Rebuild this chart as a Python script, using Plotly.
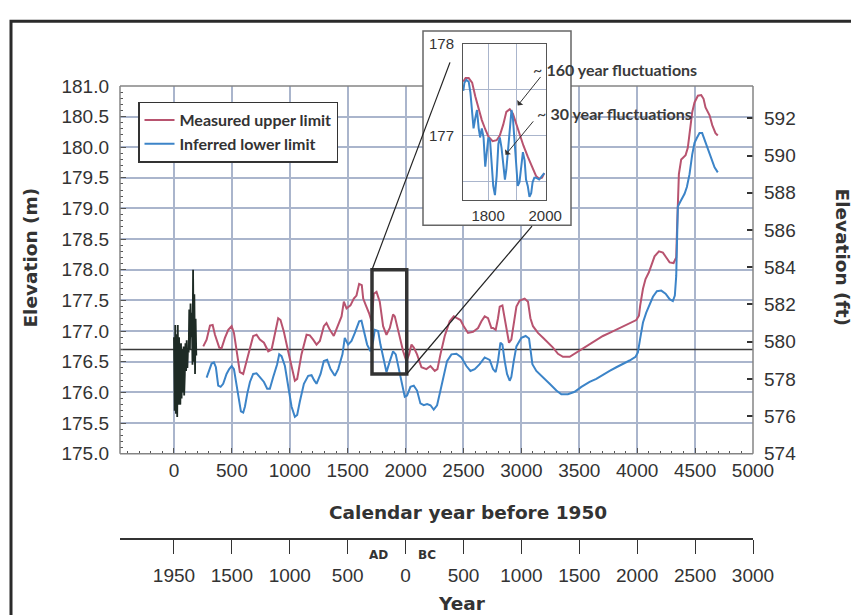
import plotly.graph_objects as go

# ---------------- data ----------------
upper_years = [253, 282, 311, 334, 354, 374, 391, 411, 440, 469, 498, 518, 547, 569, 598, 621, 650, 684, 713, 742,
               777, 814, 843, 871, 900, 920, 949, 986, 1024, 1044, 1064, 1101, 1145, 1173, 1202, 1231, 1260, 1294, 1317, 1346,
               1380, 1409, 1447, 1467, 1490, 1524, 1553, 1576, 1599, 1622, 1634, 1657, 1685, 1706, 1726, 1749, 1777, 1806, 1835, 1864,
               1892, 1907, 1927, 1950, 1979, 2007, 2030, 2051, 2071, 2099, 2137, 2180, 2215, 2252, 2275, 2301, 2338, 2381, 2416, 2444,
               2474, 2502, 2539, 2583, 2626, 2655, 2683, 2712, 2741, 2755, 2778, 2798, 2813, 2836, 2856, 2876, 2893, 2913, 2934, 2957,
               2985, 3028, 3057, 3078, 3100, 3143, 3187, 3230, 3273, 3316, 3359, 3417, 3474, 3532, 3589, 3647, 3704, 3762, 3820, 3877,
               3934, 3992, 4015, 4026, 4050, 4072, 4101, 4121, 4150, 4188, 4222, 4251, 4280, 4314, 4337, 4343, 4351, 4360, 4380, 4418,
               4437, 4452, 4475, 4495, 4524, 4553, 4573, 4590, 4625, 4648, 4676, 4696]
upper_m = [176.75, 176.86, 177.09, 177.10, 176.94, 176.81, 176.73, 176.72, 176.89, 177.02, 177.08, 176.97, 176.62, 176.33, 176.30, 176.46, 176.67, 176.92, 176.94, 176.86,
           176.81, 176.67, 176.70, 176.94, 177.21, 177.18, 176.99, 176.67, 176.33, 176.19, 176.22, 176.62, 176.94, 176.93, 176.86, 176.78, 176.84, 177.08, 177.13, 177.02,
           176.92, 177.05, 177.24, 177.48, 177.37, 177.42, 177.53, 177.58, 177.77, 177.75, 177.53, 177.42, 177.29, 177.16, 177.61, 177.64, 177.48, 177.08, 176.94, 177.05,
           177.27, 177.24, 177.08, 176.92, 176.67, 176.51, 176.62, 176.78, 176.73, 176.62, 176.41, 176.38, 176.43, 176.35, 176.38, 176.62, 176.92, 177.16, 177.24, 177.21,
           177.18, 177.08, 176.97, 176.99, 177.05, 177.16, 177.24, 177.21, 177.05, 177.05, 177.02, 177.21, 177.40, 177.42, 177.21, 176.94, 176.81, 176.86, 177.16, 177.40,
           177.50, 177.53, 177.48, 177.21, 177.08, 176.97, 176.89, 176.81, 176.73, 176.63, 176.58, 176.58, 176.65, 176.72, 176.78, 176.85, 176.92, 176.97, 177.02, 177.08,
           177.13, 177.18, 177.25, 177.42, 177.69, 177.85, 177.96, 178.06, 178.22, 178.30, 178.28, 178.20, 178.12, 178.11, 178.20, 178.60, 178.97, 179.56, 179.80, 179.87,
           179.99, 180.25, 180.57, 180.73, 180.84, 180.85, 180.79, 180.65, 180.52, 180.36, 180.23, 180.19]

lower_years = [282, 305, 325, 345, 362, 382, 403, 425, 454, 477, 498, 518, 541, 564, 578, 598, 613, 633, 656, 684,
               713, 742, 777, 805, 828, 857, 891, 909, 929, 958, 986, 1015, 1044, 1064, 1087, 1122, 1159, 1188, 1210, 1231,
               1266, 1294, 1323, 1352, 1389, 1418, 1455, 1475, 1504, 1533, 1562, 1599, 1619, 1639, 1668, 1697, 1720, 1734, 1763, 1783,
               1812, 1835, 1864, 1892, 1915, 1944, 1973, 1993, 2013, 2042, 2071, 2099, 2128, 2157, 2186, 2215, 2243, 2272, 2301, 2330,
               2358, 2396, 2439, 2482, 2525, 2560, 2597, 2640, 2683, 2726, 2755, 2778, 2798, 2819, 2836, 2856, 2876, 2899, 2913, 2934,
               2957, 3000, 3037, 3066, 3078, 3095, 3129, 3187, 3244, 3302, 3345, 3402, 3460, 3518, 3589, 3647, 3704, 3762, 3820, 3877,
               3934, 3986, 4006, 4026, 4050, 4078, 4107, 4136, 4170, 4208, 4245, 4280, 4308, 4325, 4337, 4343, 4351, 4372, 4409, 4429,
               4452, 4475, 4495, 4515, 4538, 4561, 4581, 4610, 4639, 4668, 4696]
lower_m = [176.24, 176.38, 176.47, 176.49, 176.41, 176.11, 176.09, 176.14, 176.30, 176.38, 176.43, 176.38, 176.14, 175.87, 175.69, 175.67, 175.77, 175.98, 176.17, 176.30,
           176.31, 176.25, 176.17, 176.06, 176.06, 176.25, 176.46, 176.62, 176.59, 176.43, 176.09, 175.77, 175.60, 175.63, 175.85, 176.14, 176.27, 176.28, 176.20, 176.14,
           176.30, 176.51, 176.53, 176.38, 176.27, 176.38, 176.62, 176.89, 176.78, 176.84, 176.97, 177.16, 177.17, 177.00, 176.78, 176.67, 176.84, 177.02, 177.00, 176.78,
           176.51, 176.33, 176.51, 176.67, 176.62, 176.38, 176.09, 175.93, 175.95, 176.09, 176.11, 176.03, 175.82, 175.79, 175.81, 175.79, 175.72, 175.79, 176.03, 176.30,
           176.51, 176.62, 176.63, 176.57, 176.43, 176.35, 176.38, 176.46, 176.57, 176.53, 176.38, 176.33, 176.51, 176.81, 176.78, 176.51, 176.30, 176.19, 176.25, 176.51,
           176.75, 176.89, 176.92, 176.88, 176.73, 176.46, 176.35, 176.25, 176.14, 176.03, 175.97, 175.97, 176.01, 176.09, 176.17, 176.22, 176.29, 176.35, 176.41, 176.46,
           176.52, 176.58, 176.65, 176.88, 177.14, 177.30, 177.42, 177.56, 177.65, 177.66, 177.61, 177.52, 177.49, 177.58, 177.90, 178.44, 179.03, 179.11, 179.24, 179.35,
           179.56, 179.88, 180.07, 180.15, 180.23, 180.23, 180.12, 179.99, 179.83, 179.67, 179.59]

gauge_years = [0, 6, 11, 17, 22, 28, 33, 39, 44, 50, 55, 61, 66, 72, 77, 83, 88, 94, 99, 105,
               110, 116, 121, 127, 132, 138, 143, 149, 154, 160, 165, 171, 176, 182, 187, 193]
gauge_m = [176.90, 175.70, 177.10, 175.65, 176.95, 175.60, 177.10, 175.80, 176.90, 176.00, 175.80, 176.80, 175.90, 176.70, 176.00, 176.75, 175.95, 176.30, 176.80, 176.35,
           176.85, 176.40, 176.70, 176.65, 177.35, 176.70, 177.45, 176.90, 177.30, 176.45, 178.00, 176.50, 177.60, 176.30, 177.20, 176.60]

ref_level_m = 176.7

inset_upper_years = [1713, 1721, 1732, 1744, 1755, 1767, 1778, 1790, 1801, 1816, 1830, 1841, 1853, 1864, 1876, 1887, 1899, 1910, 1924, 1939,
                     1954, 1968, 1979, 1989, 1997]
inset_upper_m = [177.59, 177.63, 177.63, 177.58, 177.43, 177.29, 177.17, 177.07, 176.99, 176.94, 176.95, 177.00, 177.12, 177.26, 177.29, 177.24, 177.12, 177.01, 176.89, 176.77,
                 176.65, 176.56, 176.53, 176.54, 176.59]
inset_lower_years = [1713, 1717, 1724, 1732, 1738, 1744, 1749, 1755, 1761, 1767, 1772, 1778, 1784, 1790, 1795, 1801, 1807, 1813, 1818, 1824,
                     1830, 1836, 1841, 1847, 1853, 1859, 1864, 1870, 1876, 1882, 1887, 1893, 1899, 1904, 1910, 1916, 1922, 1928, 1933, 1939,
                     1945, 1951, 1956, 1962, 1968, 1979, 1991, 1997]
inset_lower_m = [177.49, 177.58, 177.61, 177.59, 177.47, 177.26, 177.08, 177.19, 177.28, 177.08, 176.98, 177.08, 176.98, 176.66, 176.80, 176.98, 176.94, 176.66, 176.45, 176.35,
                 176.56, 176.91, 176.98, 176.87, 176.70, 176.52, 176.63, 176.87, 177.08, 177.28, 177.19, 176.91, 176.63, 176.45, 176.49, 176.66, 176.82, 176.73, 176.52, 176.45,
                 176.33, 176.37, 176.49, 176.54, 176.54, 176.52, 176.56, 176.59]

bp_ticks = [0, 500, 1000, 1500, 2000, 2500, 3000, 3500, 4000, 4500, 5000]
calendar_labels = ["1950", "1500", "1000", "500", "0", "500", "1000", "1500", "2000", "2500", "3000"]
ft_ticks = [574, 576, 578, 580, 582, 584, 586, 588, 590, 592]

# ---------------- layout geometry ----------------
OFF = 8                      # page body margin
W, H = 859 - OFF, 615 - OFF
PLOT_L, PLOT_R, PAPER_T, PAPER_B = 120, 753, 20, 539   # page pixels
ML = PLOT_L - OFF
MR = W - (PLOT_R - OFF)
MT = PAPER_T - OFF
MB = H - (PAPER_B - OFF)
PW, PH = PLOT_R - PLOT_L, PAPER_B - PAPER_T
X_RANGE = [-466, 5000]
Y_RANGE = [175.0, 181.0]
FT_RANGE = [573.98, 593.74]
INSET_X = [1712, 2003]
INSET_Y = [176.3, 178.005]
BOX_X = [1710, 2010]
BOX_Y = [176.3, 178.0]


def pxx(px):
    return (px - PLOT_L) / PW


def pxy(py):
    return (PAPER_B - py) / PH


Y_DOM = [pxy(452), pxy(77)]


def data_to_paper(x, y):
    fx = (x - X_RANGE[0]) / (X_RANGE[1] - X_RANGE[0])
    fy = Y_DOM[0] + (y - Y_RANGE[0]) / (Y_RANGE[1] - Y_RANGE[0]) * (Y_DOM[1] - Y_DOM[0])
    return fx, fy


def paper_to_data(fx, fy):
    x = X_RANGE[0] + fx * (X_RANGE[1] - X_RANGE[0])
    y = Y_RANGE[0] + (fy - Y_DOM[0]) / (Y_DOM[1] - Y_DOM[0]) * (Y_RANGE[1] - Y_RANGE[0])
    return x, y


RED = "#b8536f"
BLUE = "#3c84c8"
GRID = "#aab5cc"
FRAME = "#858585"
TXT = "#333333"
NUM_FONT = "Liberation Sans, Arial, sans-serif"
LBL_FONT = "Lato, Liberation Sans, sans-serif"
TTL_FONT = "DejaVu Sans, sans-serif"

fig = go.Figure()

fig.add_trace(go.Scatter(x=[X_RANGE[0], X_RANGE[1]], y=[ref_level_m, ref_level_m], mode="lines",
                         line=dict(color="#3a3a3a", width=1.6), showlegend=False, hoverinfo="skip"))
fig.add_trace(go.Scatter(x=upper_years, y=upper_m, mode="lines", name="Measured upper limit",
                         line=dict(color=RED, width=2)))
fig.add_trace(go.Scatter(x=lower_years, y=lower_m, mode="lines", name="Inferred lower limit",
                         line=dict(color=BLUE, width=2)))
fig.add_trace(go.Scatter(x=gauge_years, y=gauge_m, mode="lines", line=dict(color="#1e2b25", width=1.8),
                         showlegend=False))
# dummy trace so the secondary axes are drawn
fig.add_trace(go.Scatter(x=[None], y=[None], xaxis="x2", yaxis="y2", showlegend=False))
# inset
fig.add_trace(go.Scatter(x=inset_upper_years, y=inset_upper_m, mode="lines", xaxis="x3", yaxis="y3",
                         line=dict(color=RED, width=2), showlegend=False))
fig.add_trace(go.Scatter(x=inset_lower_years, y=inset_lower_m, mode="lines", xaxis="x3", yaxis="y3",
                         line=dict(color=BLUE, width=2), showlegend=False))

# inset region geometry (page pixels)
IN_OUT = dict(l=423, r=571, t=21, b=219)
IN_IN = dict(l=463, r=546, t=34, b=193)

shapes = []
# white cover for the inset over the main gridlines
cx0, cy0 = paper_to_data(pxx(IN_OUT["l"]), pxy(IN_OUT["b"]))
cx1, cy1 = paper_to_data(pxx(IN_OUT["r"]), pxy(IN_OUT["t"]))
shapes.append(dict(type="rect", xref="x", yref="y", x0=cx0, x1=cx1, y0=cy0, y1=cy1,
                   fillcolor="white", line=dict(width=0), layer="between"))
# main frame
fx_l, fy_b = data_to_paper(X_RANGE[0], Y_RANGE[0])
fx_r, fy_t = data_to_paper(X_RANGE[1], Y_RANGE[1])
for (a, b, c, d) in [(fx_l, fy_b, fx_r, fy_b), (fx_l, fy_b, fx_l, fy_t), (fx_r, fy_b, fx_r, fy_t),
                     (fx_l, fy_t, pxx(IN_OUT["l"]), fy_t), (pxx(IN_OUT["r"]), fy_t, fx_r, fy_t)]:
    shapes.append(dict(type="line", xref="paper", yref="paper", x0=a, y0=b, x1=c, y1=d,
                       line=dict(color=FRAME, width=1.5), layer="above"))
# inset outer box
shapes.append(dict(type="rect", xref="paper", yref="paper", x0=pxx(IN_OUT["l"]), x1=pxx(IN_OUT["r"]),
                   y0=pxy(IN_OUT["b"]), y1=pxy(IN_OUT["t"]), line=dict(color="#666666", width=1.5), layer="above"))
# highlighted box in main plot
shapes.append(dict(type="rect", xref="x", yref="y", x0=BOX_X[0], x1=BOX_X[1], y0=BOX_Y[0], y1=BOX_Y[1],
                   line=dict(color="#333333", width=3.5), layer="above"))
# connectors
p1 = data_to_paper(BOX_X[0], BOX_Y[1])
p2 = data_to_paper(BOX_X[1], BOX_Y[0])
shapes.append(dict(type="line", xref="paper", yref="paper", x0=p1[0], y0=p1[1], x1=pxx(450), y1=pxy(53),
                   line=dict(color="#222222", width=1.2), layer="above"))
shapes.append(dict(type="line", xref="paper", yref="paper", x0=p2[0], y0=p2[1], x1=pxx(532), y1=pxy(220),
                   line=dict(color="#222222", width=1.2), layer="above"))
# outer figure frame
shapes.append(dict(type="rect", xref="paper", yref="paper", x0=pxx(11), x1=pxx(855), y0=pxy(640), y1=pxy(11),
                   line=dict(color="#2a2a2a", width=3), layer="above"))

annotations = [
    dict(text="<b>Elevation (m)</b>", x=pxx(31), y=pxy(252), textangle=-90, font=dict(family=TTL_FONT, size=18.5, color=TXT)),
    dict(text="<b>Elevation (ft)</b>", x=pxx(842), y=pxy(251), textangle=90, font=dict(family=TTL_FONT, size=18.5, color=TXT)),
    dict(text="<b>Calendar year before 1950</b>", x=pxx(468), y=pxy(512), font=dict(family=TTL_FONT, size=18.5, color=TXT)),
    dict(text="<b>Year</b>", x=pxx(462), y=pxy(605), font=dict(family=TTL_FONT, size=18.5, color=TXT)),
    dict(text="<b>AD</b>", x=pxx(378), y=pxy(555), font=dict(family=TTL_FONT, size=12, color=TXT)),
    dict(text="<b>BC</b>", x=pxx(427), y=pxy(555), font=dict(family=TTL_FONT, size=12, color=TXT)),
    dict(text="~ <b>160 year fluctuations</b>", x=pxx(531), y=pxy(60), xanchor="left",
         font=dict(family=LBL_FONT, size=16, color="#3a3a3a")),
    dict(text="~ <b>30 year fluctuations</b>", x=pxx(535), y=pxy(105), xanchor="left",
         font=dict(family=LBL_FONT, size=16, color="#3a3a3a")),
]
for a in annotations:
    a.update(xref="paper", yref="paper", showarrow=False)
    a.setdefault("xanchor", "center")
    a.setdefault("yanchor", "middle")
annotations += [
    dict(x=1904, y=177.33, xref="x3", yref="y3", ax=24, ay=-30, text="", showarrow=True,
         arrowhead=1, arrowsize=1.3, arrowwidth=1, arrowcolor="#333333"),
    dict(x=1861, y=176.79, xref="x3", yref="y3", ax=29, ay=-35, text="", showarrow=True,
         arrowhead=1, arrowsize=1.3, arrowwidth=1, arrowcolor="#333333"),
]

fig.update_layout(
    width=W, height=H,
    margin=dict(l=ML, r=MR, t=MT, b=MB, pad=0),
    paper_bgcolor="white", plot_bgcolor="white",
    font=dict(family=NUM_FONT, size=19, color=TXT),
    showlegend=True,
    legend=dict(x=pxx(138), y=pxy(93), xanchor="left", yanchor="top", bgcolor="white",
                bordercolor="#333333", borderwidth=1.5,
                font=dict(family=LBL_FONT, size=16, color=TXT, weight="bold"),
                tracegroupgap=0, itemwidth=30),
    xaxis=dict(domain=[0, 1], range=X_RANGE, anchor="y", tickvals=bp_ticks,
               showgrid=True, gridcolor=GRID, gridwidth=1.5, zeroline=False, showline=False,
               ticks="inside", ticklen=6, tickcolor="#555555", tickwidth=1,
               minor=dict(dtick=100, ticks="inside", ticklen=3, tickcolor="#555555", showgrid=False),
               tickfont=dict(family=NUM_FONT, size=19, color=TXT), ticklabelstandoff=3),
    yaxis=dict(domain=Y_DOM, range=Y_RANGE, anchor="x", dtick=0.5, tick0=175, tickformat=".1f",
               showgrid=True, gridcolor=GRID, gridwidth=1.5, zeroline=False, showline=False,
               ticks="inside", ticklen=6, tickcolor="#555555", tickwidth=1,
               minor=dict(dtick=0.1, ticks="inside", ticklen=3, tickcolor="#555555", showgrid=False),
               tickfont=dict(family=NUM_FONT, size=19, color=TXT), ticklabelstandoff=10),
    xaxis2=dict(overlaying="x", anchor="free", position=0, side="bottom", range=X_RANGE,
                tickvals=bp_ticks, ticktext=calendar_labels, showgrid=False, zeroline=False,
                showline=True, linecolor="#333333", linewidth=1.5,
                ticks="outside", ticklen=14, tickcolor="#333333", tickwidth=1.2,
                tickfont=dict(family=NUM_FONT, size=19, color=TXT), ticklabelstandoff=5),
    yaxis2=dict(overlaying="y", side="right", anchor="x", range=FT_RANGE, tickvals=ft_ticks,
                showgrid=False, zeroline=False, showline=False,
                ticks="inside", ticklen=6, tickcolor="#333333", tickwidth=1.5,
                tickfont=dict(family=NUM_FONT, size=19, color=TXT), ticklabelstandoff=10),
    xaxis3=dict(domain=[pxx(IN_IN["l"]), pxx(IN_IN["r"])], anchor="y3", range=INSET_X,
                tickvals=[1800, 1900, 2000], ticktext=["1800", "", "2000"],
                showgrid=True, gridcolor=GRID, gridwidth=1, zeroline=False,
                showline=True, mirror=True, linecolor="#555555", linewidth=1, ticks="",
                tickfont=dict(family=NUM_FONT, size=15, color=TXT), ticklabelstandoff=2),
    yaxis3=dict(domain=[pxy(IN_IN["b"]), pxy(IN_IN["t"])], anchor="x3", range=INSET_Y,
                tickvals=[176.5, 177, 177.5, 178], ticktext=["", "177", "", "178"],
                showgrid=True, gridcolor=GRID, gridwidth=1, zeroline=False,
                showline=True, mirror=True, linecolor="#555555", linewidth=1, ticks="",
                tickfont=dict(family=NUM_FONT, size=15, color=TXT), ticklabelstandoff=5),
    shapes=shapes,
    annotations=annotations,
)

fig.write_html("out.html")
